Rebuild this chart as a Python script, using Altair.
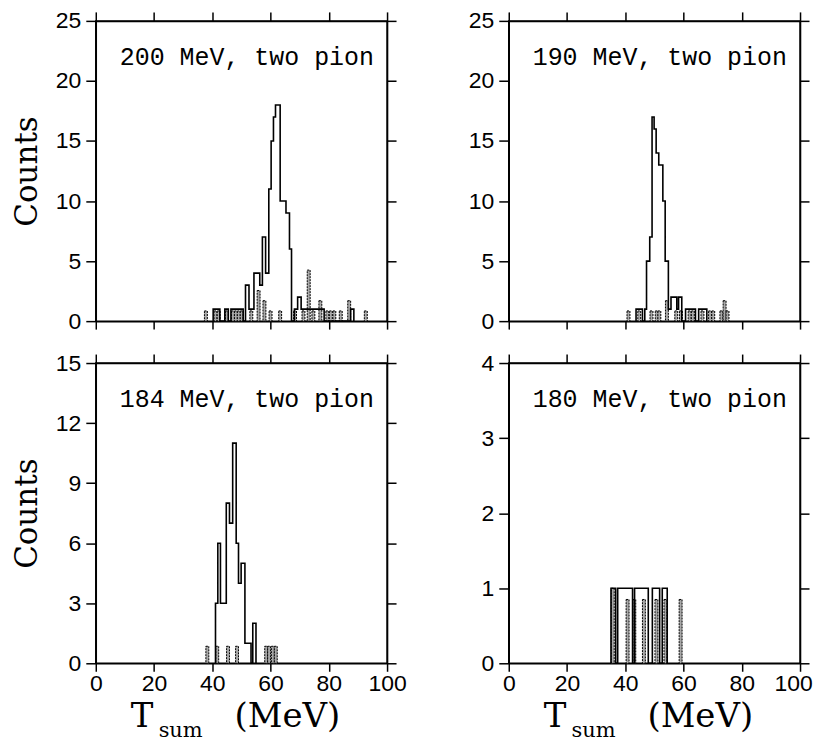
import altair as alt
import pandas as pd

# ---------------- data ----------------
x_ticks = [0, 20, 40, 60, 80, 100]
panel_labels = ["200 MeV, two pion", "190 MeV, two pion",
                "184 MeV, two pion", "180 MeV, two pion"]
y_max = [25, 25, 15, 4]
y_ticks = [[0, 5, 10, 15, 20, 25], [0, 5, 10, 15, 20, 25],
           [0, 3, 6, 9, 12, 15], [0, 1, 2, 3, 4]]

# main (solid) histograms: counts[i] holds between edges[i] and edges[i+1]
tl_edges = [40.3, 42.6, 44.3, 45.5, 46.4, 50.6, 51.4, 52.6, 54.3, 56.3, 57.2,
            58.3, 59.4, 60.2, 61.0, 61.7, 63.3, 65.3, 66.5, 67.2, 68.2, 69.3,
            70.5, 78.4, 87.5, 88.6]
tl_counts = [1, 0, 1, 0, 1, 0, 3, 1, 4, 3, 7, 4, 11, 15, 17, 18, 10, 9, 6, 0,
             1, 2, 1, 0, 1]

tr_edges = [43.7, 45.9, 46.7, 47.3, 48.4, 49.2, 49.9, 50.6, 51.5, 52.9, 53.7,
            54.8, 55.7, 57.7, 58.3, 59.4, 60.7, 64.1, 65.2, 68.0]
tr_counts = [1, 0, 1, 5, 7, 17, 16, 14, 13, 10, 5, 1, 2, 1, 2, 0, 1, 0, 1]

bl_edges = [41.1, 41.9, 42.8, 44.8, 45.9, 47.0, 48.2, 49.0, 49.9, 51.2, 53.3,
            53.9, 55.0]
bl_counts = [3, 6, 3, 8, 7, 11, 6, 4, 5, 1, 0, 2]

br_edges = [35.1, 36.7, 37.4, 42.5, 43.2, 47.9, 49.3, 51.8, 52.7, 54.4]
br_counts = [1, 0, 1, 0, 1, 0, 1, 0, 1]

# dotted (scaled background) histograms: bin start and height, 1 MeV bins
tl_dot_x = [37.3, 40.6, 41.7, 44.5, 46.6, 47.6, 48.6, 49.6, 52.9, 55.4, 57.4,
            59.5, 62.8, 67.9, 70.8, 72.6, 74.2, 76.6, 79.0, 80.2, 81.4, 83.6,
            86.5, 92.2]
tl_dot_h = [0.85, 0.85, 0.85, 0.85, 0.85, 0.85, 0.85, 0.85, 0.85, 2.55, 1.7,
            0.85, 0.85, 0.85, 0.85, 4.25, 0.85, 1.7, 0.85, 0.85, 0.85, 0.85,
            1.7, 0.85]

tr_dot_x = [40.6, 44.3, 48.5, 50.3, 51.2, 53.8, 57.0, 58.6, 61.6, 62.7, 66.0,
            68.6, 69.7, 72.5, 73.6, 74.6]
tr_dot_h = [0.85, 0.85, 0.85, 0.85, 0.85, 1.7, 0.85, 0.85, 0.85, 0.85, 0.85,
            0.85, 0.85, 0.85, 1.7, 0.85]

bl_dot_x = [37.8, 41.2, 44.9, 48.0, 58.0, 59.0, 60.3, 61.3]
bl_dot_h = [0.85, 0.85, 0.85, 0.85, 0.85, 0.85, 0.85, 0.85]

br_dot_x = [35.2, 40.3, 42.6, 45.9, 50.2, 53.3, 58.5]
br_dot_h = [1.0, 0.85, 0.85, 0.85, 0.85, 0.85, 0.85]

# ---------------- chart ----------------
W, H = 292, 301
LABEL_FONT = "Liberation Sans"


def step_df(edges, counts):
    xs = [edges[0]] + list(edges[:-1]) + [edges[-1]]
    ys = [0] + list(counts) + [0]
    return pd.DataFrame({"x": xs, "y": ys, "i": list(range(len(xs)))})


def panel(edges, counts, dx, dh, label, ymax, yt, bottom_row, left_col):
    xs = alt.Scale(domain=[0, 100], nice=False, zero=False)
    ys = alt.Scale(domain=[0, ymax], nice=False)
    line_df = step_df(edges, counts)
    dot_df = pd.DataFrame({"x": dx, "x2": [v + 1.0 for v in dx], "h": dh,
                           "y0": [0] * len(dx)})

    bars = alt.Chart(dot_df).mark_rect(
        fill="#a8a8a8", stroke="black", strokeWidth=1.0, strokeDash=[2, 1]
    ).encode(
        x=alt.X("x:Q", scale=xs, axis=None),
        x2="x2:Q",
        y=alt.Y("h:Q", scale=ys, axis=None),
        y2="y0:Q",
    )

    xaxis_kw = dict(orient="bottom", values=x_ticks, labels=bottom_row,
                    tickSize=8, labelPadding=1, labelFontSize=23,
                    labelFont=LABEL_FONT, labelColor="black",
                    labelOverlap=False, labelFlush=False, title=None)
    if bottom_row and not left_col:
        # keep the last label of the right-hand panel inside the page
        xaxis_kw["labelOffset"] = {"condition": {"test": "datum.value == 100",
                                                 "value": -7},
                                   "value": 0}
    yaxis_kw = dict(orient="left", values=yt, tickSize=10, labelPadding=5,
                    labelFontSize=23, labelFont=LABEL_FONT,
                    labelColor="black", labelOverlap=False)
    if left_col:
        yaxis_kw.update(title="Counts", titleFont="DejaVu Serif",
                        titleFontSize=31, titleFontWeight="normal",
                        titleColor="black", titlePadding=12)
    else:
        yaxis_kw.update(title=None)

    line = alt.Chart(line_df).mark_line(
        interpolate="step-after", color="black", strokeWidth=1.6
    ).encode(
        x=alt.X("x:Q", scale=xs, axis=alt.Axis(**xaxis_kw)),
        y=alt.Y("y:Q", scale=ys, axis=alt.Axis(**yaxis_kw)),
        order="i:Q",
    )

    frame = alt.Chart(line_df).mark_point(opacity=0).encode(
        x=alt.X("x:Q", scale=xs, axis=alt.Axis(orient="top", values=x_ticks,
                                                labels=False, tickSize=9,
                                                title=None)),
        y=alt.Y("y:Q", scale=ys, axis=alt.Axis(orient="right", values=yt,
                                                labels=False, tickSize=9,
                                                title=None)),
    )

    txt = alt.Chart(pd.DataFrame({"t": [label]})).mark_text(
        align="left", baseline="alphabetic", font="Liberation Mono",
        fontSize=25, color="black"
    ).encode(x=alt.value(24), y=alt.value(44), text="t:N")

    layers = [bars, line, frame, txt]
    if bottom_row:
        tdf = pd.DataFrame({"a": ["T"], "b": ["sum"], "c": ["(MeV)"]})
        t1 = alt.Chart(tdf).mark_text(align="left", baseline="alphabetic",
                                      font="DejaVu Serif", fontSize=34,
                                      color="black").encode(
            x=alt.value(35), y=alt.value(H + 64), text="a:N")
        t2 = alt.Chart(tdf).mark_text(align="left", baseline="alphabetic",
                                      font="DejaVu Serif", fontSize=21,
                                      color="black").encode(
            x=alt.value(63), y=alt.value(H + 74), text="b:N")
        t3 = alt.Chart(tdf).mark_text(align="left", baseline="alphabetic",
                                      font="DejaVu Serif", fontSize=34,
                                      color="black").encode(
            x=alt.value(139), y=alt.value(H + 64), text="c:N")
        layers += [t1, t2, t3]

    return alt.layer(*layers).resolve_axis(
        x="independent", y="independent"
    ).properties(width=W, height=H)


p1 = panel(tl_edges, tl_counts, tl_dot_x, tl_dot_h, panel_labels[0],
           y_max[0], y_ticks[0], False, True)
p2 = panel(tr_edges, tr_counts, tr_dot_x, tr_dot_h, panel_labels[1],
           y_max[1], y_ticks[1], False, False)
p3 = panel(bl_edges, bl_counts, bl_dot_x, bl_dot_h, panel_labels[2],
           y_max[2], y_ticks[2], True, True)
p4 = panel(br_edges, br_counts, br_dot_x, br_dot_h, panel_labels[3],
           y_max[3], y_ticks[3], True, False)

chart = alt.concat(p1, p2, p3, p4, columns=2,
                   spacing={"row": 17, "column": 60}).properties(
    padding={"left": 2, "top": 0, "right": 0, "bottom": 0},
    background="white",
).configure_view(
    stroke="black", strokeWidth=1.5
).configure_axis(
    grid=False, domainColor="black", domainWidth=1.5, tickColor="black",
    tickWidth=1.5
)

chart.save("out.html", embed_options={"renderer": "svg", "actions": False})
